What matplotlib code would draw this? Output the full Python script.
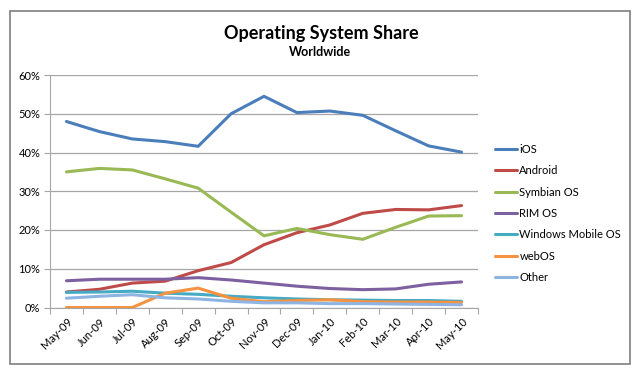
import numpy as np
import matplotlib.pyplot as plt
from matplotlib.patches import Rectangle
from matplotlib.ticker import PercentFormatter

plt.rcParams['font.family'] = ['Lato', 'DejaVu Sans']

months = ['May-09', 'Jun-09', 'Jul-09', 'Aug-09', 'Sep-09', 'Oct-09', 'Nov-09',
          'Dec-09', 'Jan-10', 'Feb-10', 'Mar-10', 'Apr-10', 'May-10']

ios = [48.0, 45.4, 43.5, 42.8, 41.6, 50.0, 54.5, 50.3, 50.7, 49.6, 45.6, 41.7, 40.1]
android = [4.0, 4.7, 6.3, 6.8, 9.5, 11.6, 16.2, 19.3, 21.3, 24.3, 25.3, 25.2, 26.3]
symbian = [35.0, 35.9, 35.5, 33.2, 30.8, 24.6, 18.5, 20.4, 18.8, 17.6, 20.7, 23.6, 23.7]
rim = [6.9, 7.3, 7.3, 7.3, 7.7, 7.1, 6.3, 5.5, 4.9, 4.6, 4.8, 6.0, 6.6]
winmo = [3.9, 4.0, 4.2, 3.7, 3.4, 2.9, 2.5, 2.2, 2.0, 1.9, 1.8, 1.8, 1.6]
webos = [0.0, 0.0, 0.0, 3.7, 5.0, 2.4, 1.5, 1.8, 2.0, 1.5, 1.4, 1.4, 1.3]
other = [2.4, 2.9, 3.3, 2.5, 2.2, 1.6, 1.2, 1.2, 1.0, 1.0, 0.9, 0.8, 0.7]

names = ['iOS', 'Android', 'Symbian OS', 'RIM OS', 'Windows Mobile OS', 'webOS', 'Other']
colors = ['#4A7EBB', '#BE4B48', '#98B954', '#7D60A0', '#46AAC5', '#F69240', '#8EB4E3']
series = [ios, android, symbian, rim, winmo, webos, other]

fig = plt.figure(figsize=(6.4, 3.75), dpi=100)
fig.patches.append(Rectangle((10 / 640, 1 - 364 / 375), 620 / 640, 353 / 375,
                             transform=fig.transFigure, fill=False,
                             edgecolor='#7f7f7f', linewidth=1.2))

ax = fig.add_axes([50 / 640, 1 - 307.5 / 375, 428 / 640, 232.5 / 375])
x = np.arange(len(months))
for vals, name, c in zip(series, names, colors):
    ax.plot(x, vals, color=c, linewidth=2.2, label=name, solid_capstyle='round')

ax.set_xlim(-0.5, len(months) - 0.5)
ax.set_ylim(0, 60)
ax.set_yticks(np.arange(0, 61, 10))
ax.yaxis.set_major_formatter(PercentFormatter(decimals=0))
ax.yaxis.grid(True, color='#a6a6a6', linewidth=0.9)
ax.set_axisbelow(True)

# category boundaries get the ticks, labels sit at the centres
ax.set_xticks(np.arange(-0.5, len(months), 1))
ax.set_xticklabels([])
ax.set_xticks(x, minor=True)
ax.set_xticklabels(months, minor=True, rotation=45, ha='right', va='top',
                   rotation_mode='anchor', fontsize=8)
ax.tick_params(axis='x', which='minor', length=0, pad=6)
ax.tick_params(axis='x', which='major', length=4, color='#a6a6a6')
ax.tick_params(axis='y', length=4, color='#a6a6a6', labelsize=8, pad=3)

for s in ['top', 'right']:
    ax.spines[s].set_visible(False)
for s in ['left', 'bottom']:
    ax.spines[s].set_color('#a6a6a6')

fig.text(321 / 640, 1 - 34 / 375, 'Operating System Share',
         ha='center', va='center', fontsize=13, fontweight='bold')
fig.text(320 / 640, 1 - 52 / 375, 'Worldwide',
         ha='center', va='center', fontsize=9, fontweight='bold')

ax.legend(loc='upper left', bbox_to_anchor=(485 / 640, 1 - 134 / 375),
          bbox_transform=fig.transFigure, frameon=False, fontsize=8,
          handlelength=2.0, handletextpad=0.2, labelspacing=0.93)

fig.savefig('out.png', dpi=100)
